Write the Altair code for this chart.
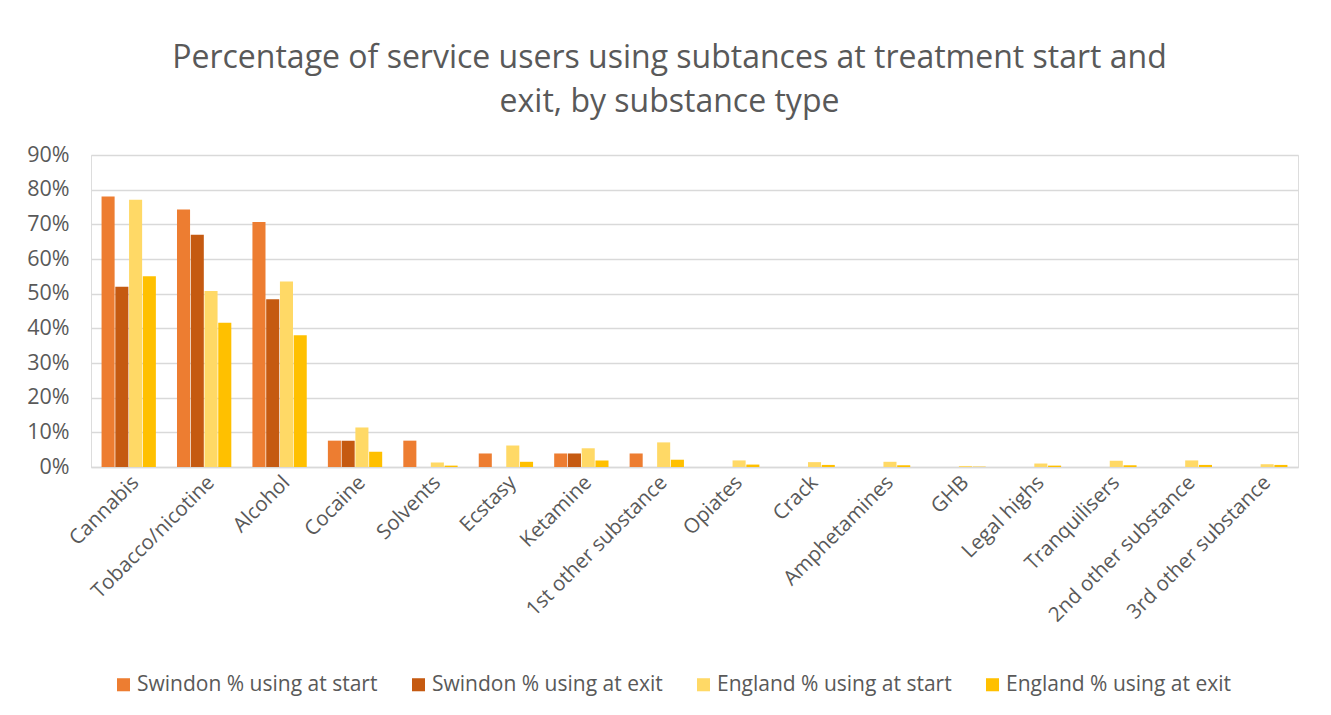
import altair as alt
import pandas as pd

categories = ["Cannabis", "Tobacco/nicotine", "Alcohol", "Cocaine", "Solvents", "Ecstasy",
              "Ketamine", "1st other substance", "Opiates", "Crack", "Amphetamines", "GHB",
              "Legal highs", "Tranquilisers", "2nd other substance", "3rd other substance"]
series = ["Swindon % using at start", "Swindon % using at exit",
          "England % using at start", "England % using at exit"]
swindon_start = [78.0, 74.3, 70.7, 7.6, 7.6, 3.9, 3.9, 3.9, 0, 0, 0, 0, 0, 0, 0, 0]
swindon_exit = [52.0, 67.0, 48.4, 7.6, 0, 0, 3.9, 0, 0, 0, 0, 0, 0, 0, 0, 0]
england_start = [77.1, 50.8, 53.5, 11.4, 1.3, 6.2, 5.4, 7.1, 1.9, 1.4, 1.5, 0.3, 1.0, 1.8, 1.9, 0.8]
england_exit = [55.0, 41.6, 38.0, 4.4, 0.4, 1.5, 1.9, 2.1, 0.7, 0.6, 0.5, 0.1, 0.4, 0.5, 0.6, 0.6]
colors = ["#ED7D31", "#C55A11", "#FFD966", "#FFC000"]
y_ticks = [0, 10, 20, 30, 40, 50, 60, 70, 80, 90]

rows = []
for vals, s in zip([swindon_start, swindon_exit, england_start, england_exit], series):
    for c, v in zip(categories, vals):
        rows.append({"Substance": c, "Series": s, "Value": v})
df = pd.DataFrame(rows)

FONT = "Open Sans"
GREY = "#595959"

chart = alt.Chart(df).mark_bar().encode(
    x=alt.X("Substance:N", sort=categories, title=None,
            scale=alt.Scale(paddingInner=0.28, paddingOuter=0.14),
            axis=alt.Axis(labelAngle=-45, labelFontSize=20.5, labelColor=GREY, labelFont=FONT,
                          ticks=False, domainColor="#D9D9D9", domainWidth=1.5, labelPadding=5,
                          labelLimit=300)),
    xOffset=alt.XOffset("Series:N", sort=series, scale=alt.Scale(paddingInner=0.05)),
    y=alt.Y("Value:Q", title=None,
            scale=alt.Scale(domain=[0, 90], nice=False),
            axis=alt.Axis(values=y_ticks, labelExpr="datum.value + '%'", labelFontSize=21.5,
                          labelColor=GREY, labelFont=FONT, ticks=False, domain=False,
                          gridColor="#D9D9D9", gridWidth=1.5, labelPadding=22)),
    color=alt.Color("Series:N", sort=series, scale=alt.Scale(domain=series, range=colors),
                    legend=alt.Legend(title=None, orient="none", direction="horizontal",
                                      legendX=22, legendY=519, symbolType="square",
                                      symbolSize=170, symbolStrokeWidth=0, labelFontSize=21,
                                      labelColor=GREY, labelFont=FONT,
                                      symbolOffset=0, labelOffset=3, labelLimit=400)),
).properties(
    width=1207, height=312,
    title=alt.Title(["Percentage of service users using subtances at treatment start and",
                     "exit, by substance type"],
                    fontSize=32, font=FONT, fontWeight="normal", color=GREY,
                    anchor="middle", dx=-25, lineHeight=44, offset=25),
    autosize=alt.AutoSizeParams(type="none"),
    padding={"left": 91, "top": 155, "right": 33, "bottom": 248},
).configure_view(stroke=None).configure(background="white").configure_legend(columnPadding=30)

chart.save("out.html", embed_options={"renderer": "svg", "actions": False})
